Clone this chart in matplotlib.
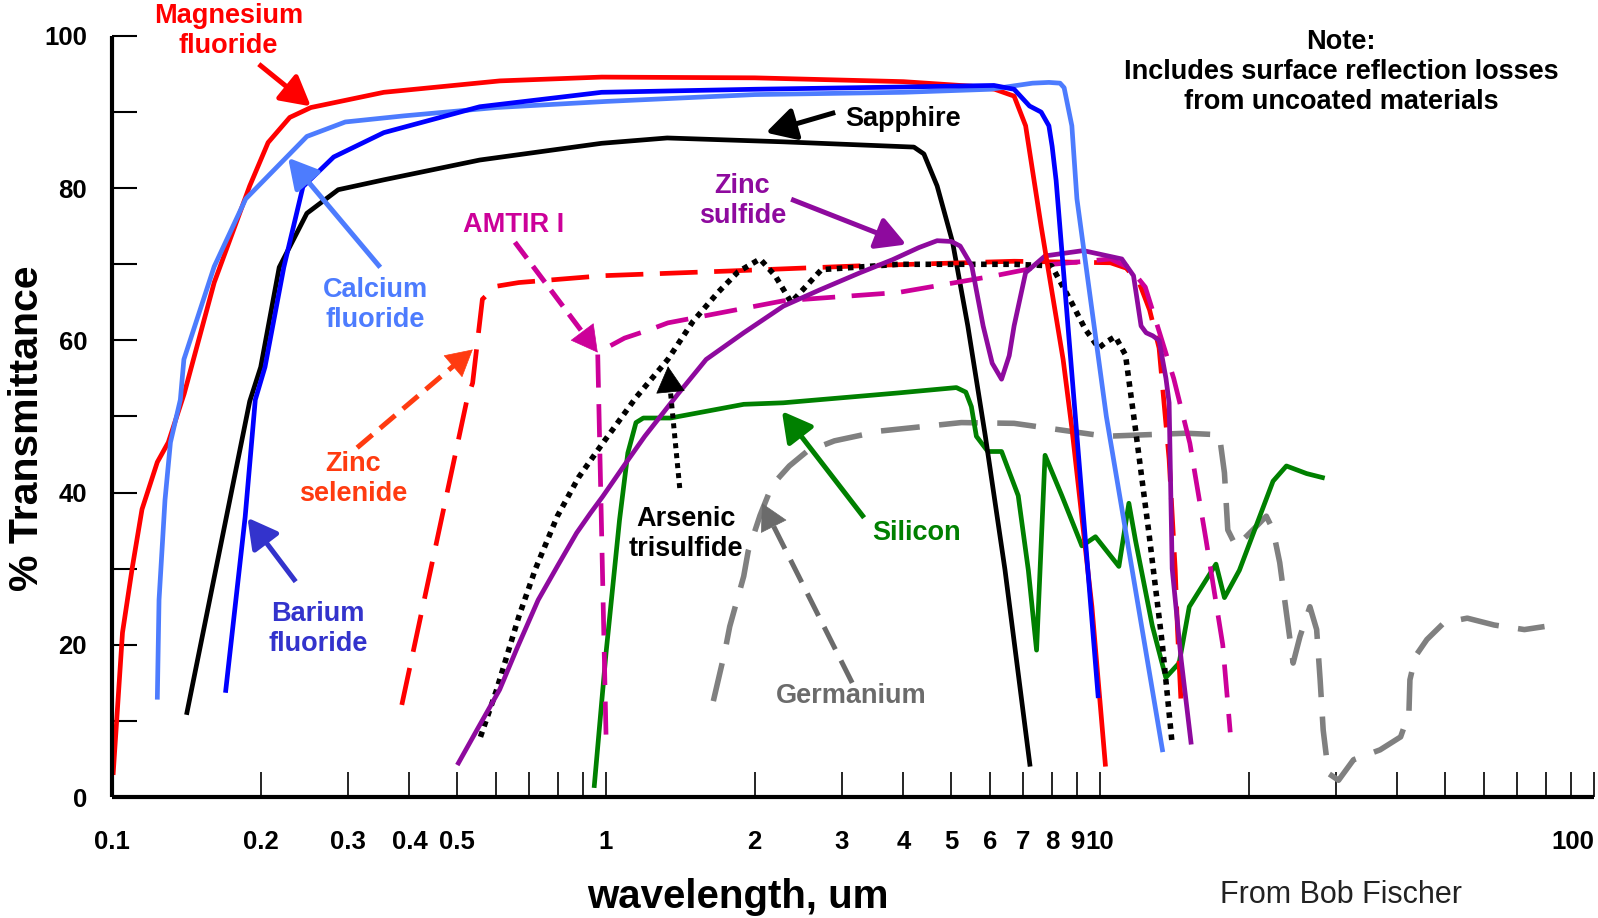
import matplotlib
matplotlib.use('Agg')
import matplotlib.pyplot as plt
import numpy as np
from matplotlib.ticker import FixedLocator, NullFormatter, FixedFormatter

plt.rcParams['font.family'] = ['Liberation Sans', 'DejaVu Sans']

# ---------------- data (wavelength in um, transmittance in %) ----------------
mgf2_x = [0.1005, 0.105, 0.11, 0.115, 0.1235, 0.13, 0.14, 0.161, 0.19, 0.207, 0.229,
          0.2527, 0.355, 0.61, 0.98, 2.0, 4.0, 5.5, 6.12, 6.7, 7.07, 7.6, 8.42, 8.77, 9.63, 10.26]
mgf2_y = [2.9, 21.6, 30.3, 37.8, 44.0, 46.6, 53.0, 67.6, 80.3, 86.0, 89.3,
          90.6, 92.6, 94.1, 94.6, 94.5, 94.0, 93.4, 93.0, 92.1, 88.2, 75.0, 57.5, 48.5, 25.0, 4.0]

caf2_x = [0.1235, 0.1245, 0.128, 0.1313, 0.1375, 0.1398, 0.161, 0.1865, 0.207, 0.248, 0.2966,
          0.3895, 0.6, 1.0, 2.0, 4.0, 6.0, 7.3, 7.88, 8.3, 8.46, 8.77, 8.98, 10.3, 13.4]
caf2_y = [12.8, 25.9, 39.0, 46.6, 52.2, 57.5, 69.7, 78.6, 81.6, 86.8, 88.7,
          89.5, 90.6, 91.4, 92.3, 92.6, 93.0, 93.8, 93.9, 93.8, 93.2, 88.2, 78.6, 50.0, 5.9]

baf2_x = [0.1697, 0.186, 0.195, 0.204, 0.2227, 0.2435, 0.281, 0.355, 0.555, 0.98, 2.0, 4.0,
          6.1, 6.7, 7.2, 7.6, 7.88, 8.0, 8.15, 9.92]
baf2_y = [13.7, 36.8, 52.2, 56.5, 69.6, 80.2, 84.1, 87.3, 90.7, 92.6, 93.0, 93.3,
          93.5, 93.0, 90.8, 90.0, 88.2, 85.5, 81.0, 13.0]

sapphire_x = [0.1415, 0.19, 0.2, 0.218, 0.248, 0.287, 0.355, 0.555, 0.98, 1.33, 2.27, 4.2,
              4.4, 4.68, 5.03, 5.4, 5.86, 6.42, 7.22]
sapphire_y = [10.8, 52.0, 56.5, 69.6, 76.7, 79.8, 81.1, 83.7, 85.9, 86.6, 86.1, 85.4,
              84.5, 80.3, 72.9, 61.9, 47.4, 29.9, 4.0]

znse_x = [0.386, 0.523, 0.537, 0.562, 0.598, 0.666, 0.985, 1.746, 3.27, 6.7, 10.5, 11.3,
          12.0, 12.6, 13.17, 13.8, 14.2, 14.35, 14.6]
znse_y = [12.1, 52.2, 54.4, 65.4, 67.1, 67.6, 68.5, 69.1, 69.8, 70.4, 70.2, 69.5,
          67.6, 64.0, 59.0, 44.4, 29.8, 22.0, 12.0]

amtir_x = [1.0, 0.962, 1.09, 1.225, 1.334, 2.285, 3.91, 6.13, 8.02, 10.5, 11.5, 12.35,
           13.2, 14.1, 15.2, 16.39, 17.72, 18.35]
amtir_y = [8.2, 58.4, 60.3, 61.4, 62.3, 65.2, 66.3, 68.5, 70.0, 70.7, 69.5, 67.0,
           61.0, 55.0, 46.5, 33.8, 20.0, 8.5]

zns_x = [0.5, 0.55, 0.609, 0.66, 0.729, 0.8, 0.872, 0.93, 0.985, 1.1, 1.198, 1.4, 1.595,
         1.9, 2.285, 2.7, 3.27, 3.8, 4.3, 4.68, 5.0, 5.21, 5.5, 5.8, 6.05, 6.32, 6.55, 6.7,
         7.07, 7.74, 9.25, 11.07, 11.69, 12.11, 12.4, 12.79, 13.17, 13.6, 13.8, 14.0,
         14.6, 15.3]
zns_y = [4.2, 9.0, 14.1, 19.5, 25.9, 30.5, 34.7, 37.3, 39.5, 44.0, 47.4, 53.0, 57.5,
         61.0, 64.5, 66.6, 68.9, 70.6, 72.2, 73.1, 73.0, 72.4, 69.8, 61.9, 57.0, 54.9,
         58.0, 61.9, 68.9, 71.1, 71.8, 70.7, 68.5, 61.9, 61.0, 60.6, 60.0, 55.0, 51.8,
         30.0, 18.0, 6.9]

as2s3_x = [0.557, 0.6, 0.666, 0.72, 0.797, 0.88, 0.985, 1.019, 1.15, 1.334, 1.5, 1.685,
           1.85, 2.05, 2.2, 2.37, 2.73, 3.91, 6.7, 7.98, 8.77, 9.33, 9.94, 10.3, 10.74,
           11.26, 11.8, 12.56, 13.37, 14.0]
as2s3_y = [7.9, 14.0, 23.7, 30.0, 36.9, 42.0, 46.5, 47.8, 52.5, 57.5, 62.5, 66.3,
           69.0, 70.7, 68.5, 65.0, 69.3, 70.0, 70.0, 69.8, 64.9, 61.5, 59.0, 59.8, 60.5,
           58.1, 48.3, 34.7, 20.1, 6.9]

si_x = [0.946, 1.0, 1.065, 1.107, 1.15, 1.19, 1.35, 1.9, 2.285, 3.91, 5.12, 5.35, 5.49,
        5.62, 5.93, 6.32, 6.83, 7.16, 7.44, 7.74, 8.37, 9.19, 9.79, 10.92, 11.44, 11.8,
        12.76, 13.59, 14.46, 15.16, 17.17, 17.86, 19.15, 22.4, 23.84, 26.2, 28.5]
si_y = [1.2, 18.9, 36.4, 45.2, 49.2, 49.8, 49.8, 51.6, 51.8, 53.1, 53.8, 53.2, 51.3,
        47.4, 45.4, 45.4, 39.6, 29.8, 19.3, 44.9, 39.6, 33.0, 34.2, 30.3, 38.6, 33.7,
        22.5, 15.7, 17.6, 25.0, 30.6, 26.2, 29.8, 41.5, 43.5, 42.5, 41.9]

ge_x = [1.649, 1.74, 1.78, 1.9, 1.94, 2.05, 2.17, 2.35, 2.55, 2.9, 3.6, 5.24, 6.7, 10.26,
        14.92, 17.44, 17.86, 18.14, 18.86, 20.39, 21.71, 22.4, 23.11, 23.84, 24.6, 25.4,
        26.6, 27.45, 27.9, 28.3, 29.0, 30.4, 32.6, 36.9, 40.6, 42.2, 42.4, 43.5, 45.9,
        49.7, 55.4, 62.8, 72.3, 79.4]
ge_y = [12.6, 19.1, 22.4, 29.0, 32.3, 37.0, 41.0, 43.5, 45.4, 46.8, 48.1, 49.2, 49.1, 47.4,
        47.8, 47.6, 42.6, 35.1, 32.9, 35.1, 36.9, 35.1, 30.8, 24.2, 17.6, 21.1,
        25.0, 22.0, 15.4, 8.8, 3.1, 2.2, 4.9, 6.2, 7.9, 11.0, 15.4, 18.5, 20.7,
        22.9, 23.5, 22.6, 22.0, 22.4]

x_label_ticks = [0.1, 0.2, 0.3, 0.4, 0.5, 1, 2, 3, 4, 5, 6, 7, 8, 9, 10, 100]
x_tick_labels = ['0.1', '0.2', '0.3', '0.4', '0.5', '1', '2', '3', '4', '5', '6', '7', '8', '9', '10', '100']
x_minor_ticks = [0.6, 0.7, 0.8, 0.9, 20, 30, 40, 50, 60, 70, 80, 90]
y_major_ticks = [0, 20, 40, 60, 80, 100]
y_minor_ticks = [10, 30, 50, 70, 90]

# ---------------- colours ----------------
C_RED = '#FF0000'
C_LBLUE = '#4D7CFE'
C_BLUE = '#0000FF'
C_MAG = '#CC0099'
C_PURP = '#8E0A9E'
C_GREEN = '#008000'
C_GRAY = '#808080'
C_ZNSE = '#FF3B10'
C_BA = '#3333CC'
C_GETXT = '#6B6B6B'

fig = plt.figure(figsize=(15.98, 9.18), dpi=100)
ax = fig.add_axes([0.0701, 0.1318, 0.9274, 0.829])
ax.set_xscale('log')
ax.set_xlim(0.1, 100)
ax.set_ylim(0, 100)

LW = 3.4
solid = dict(lw=LW, solid_joinstyle='round', solid_capstyle='butt')
ax.plot(ge_x, ge_y, color=C_GRAY, lw=4.0, dashes=(7, 3.5), dash_capstyle='butt', dash_joinstyle='round')
ax.plot(si_x, si_y, color=C_GREEN, **solid)
ax.plot(sapphire_x, sapphire_y, color='black', **solid)
ax.plot(znse_x, znse_y, color=C_RED, lw=LW, dashes=(8, 3.5), dash_capstyle='butt')
ax.plot(amtir_x, amtir_y, color=C_MAG, lw=LW, dashes=(7, 3.5), dash_capstyle='butt')
ax.plot(as2s3_x, as2s3_y, color='black', lw=4.0, dashes=(1, 1), dash_capstyle='butt')
ax.plot(zns_x, zns_y, color=C_PURP, **solid)
ax.plot(mgf2_x, mgf2_y, color=C_RED, **solid)
ax.plot(caf2_x, caf2_y, color=C_LBLUE, **solid)
ax.plot(baf2_x, baf2_y, color=C_BLUE, **solid)

# ---------------- axes styling ----------------
for s in ['top', 'right']:
    ax.spines[s].set_visible(False)
for s in ['left', 'bottom']:
    ax.spines[s].set_linewidth(3)
    ax.spines[s].set_capstyle('butt')

ax.xaxis.set_major_locator(FixedLocator(x_label_ticks))
ax.xaxis.set_major_formatter(FixedFormatter(x_tick_labels))
ax.xaxis.set_minor_locator(FixedLocator(x_minor_ticks))
ax.xaxis.set_minor_formatter(NullFormatter())
ax.yaxis.set_major_locator(FixedLocator(y_major_ticks))
ax.yaxis.set_minor_locator(FixedLocator(y_minor_ticks))

ax.tick_params(axis='x', which='both', direction='in', length=18, width=1.2, color='black')
ax.tick_params(axis='x', which='major', labelsize=18.5, pad=24)
ax.tick_params(axis='y', which='both', direction='in', length=18, width=1.5, color='black')
ax.tick_params(axis='y', which='major', labelsize=18.5, pad=18)
for lab in ax.get_xticklabels() + ax.get_yticklabels():
    lab.set_fontweight('bold')
ax.get_xticklabels()[-1].set_horizontalalignment('right')

fig.text(0.462, 0.023, 'wavelength, um', fontsize=29, fontweight='bold', ha='center', va='center')
fig.text(0.0172, 0.534, '% Transmittance', fontsize=29.5, fontweight='bold', rotation=90,
         ha='center', va='center')
fig.text(0.839, 0.025, 'From Bob Fischer', fontsize=22, ha='center', va='center', color='#222222')

# ---------------- labels & arrows ----------------
LFS = 19.5
def label(x, y, s, color, ha='center'):
    ax.text(x, y, s, color=color, fontsize=LFS, fontweight='bold', ha=ha, va='center',
            linespacing=1.2, clip_on=False)

def arrow(tail, tip, color, ls=None):
    if ls is None:
        ax.annotate('', xy=tip, xytext=tail, annotation_clip=False,
                    arrowprops=dict(arrowstyle='-|>,head_length=1.0,head_width=0.55',
                                    mutation_scale=18, lw=3.6, color=color,
                                    shrinkA=0, shrinkB=0, capstyle='butt'))
        return
    # broken shaft drawn separately, solid head at the tip
    p0 = ax.transData.transform(tail)
    p1 = ax.transData.transform(tip)
    d = (p1 - p0) / np.hypot(*(p1 - p0))
    back = ax.transData.inverted().transform(p1 - d * 14)
    ax.annotate('', xy=back, xytext=tail, annotation_clip=False,
                arrowprops=dict(arrowstyle='-', lw=3.6, color=color, linestyle=ls,
                                shrinkA=0, shrinkB=0, capstyle='butt'))
    ax.annotate('', xy=tip, xytext=back, annotation_clip=False,
                arrowprops=dict(arrowstyle='-|>,head_length=1.0,head_width=0.55',
                                mutation_scale=18, lw=0.5, color=color,
                                shrinkA=0, shrinkB=0))

label(0.172, 100.6, 'Magnesium\nfluoride', C_RED)
arrow((0.1982, 96.3), (0.2527, 90.75), C_RED)

label(0.3414, 64.7, 'Calcium\nfluoride', C_LBLUE)
arrow((0.3491, 69.6), (0.2272, 84.0), C_LBLUE)

label(0.2614, 22.1, 'Barium\nfluoride', C_BA)
arrow((0.2354, 28.3), (0.188, 36.7), C_BA)

label(3.05, 89.05, 'Sapphire', 'black', ha='left')
arrow((2.91, 89.95), (2.106, 87.3), 'black')

label(1.887, 78.3, 'Zinc\nsulfide', C_PURP)
arrow((2.37, 78.55), (4.055, 72.6), C_PURP)

label(0.65, 75.1, 'AMTIR I', C_MAG)
arrow((0.654, 72.9), (0.962, 58.4), C_MAG, ls=(0, (4, 2)))

label(0.3075, 41.8, 'Zinc\nselenide', C_ZNSE)
arrow((0.3135, 45.9), (0.5373, 58.8), C_ZNSE, ls=(0, (4, 2)))

label(1.453, 34.5, 'Arsenic\ntrisulfide', 'black')
arrow((1.41, 40.6), (1.335, 56.6), 'black', ls=(0, (1, 1)))

label(4.25, 34.7, 'Silicon', C_GREEN)
arrow((3.33, 36.7), (2.27, 50.7), C_GREEN)

label(3.14, 13.3, 'Germanium', C_GETXT)
arrow((3.15, 15.0), (2.07, 38.6), C_GETXT, ls=(0, (5, 2.5)))

ax.text(30.8, 95.3, 'Note:\nIncludes surface reflection losses\nfrom uncoated materials',
        fontsize=19.5, fontweight='bold', ha='center', va='center', linespacing=1.2,
        clip_on=False)

fig.savefig('out.png', dpi=100)
